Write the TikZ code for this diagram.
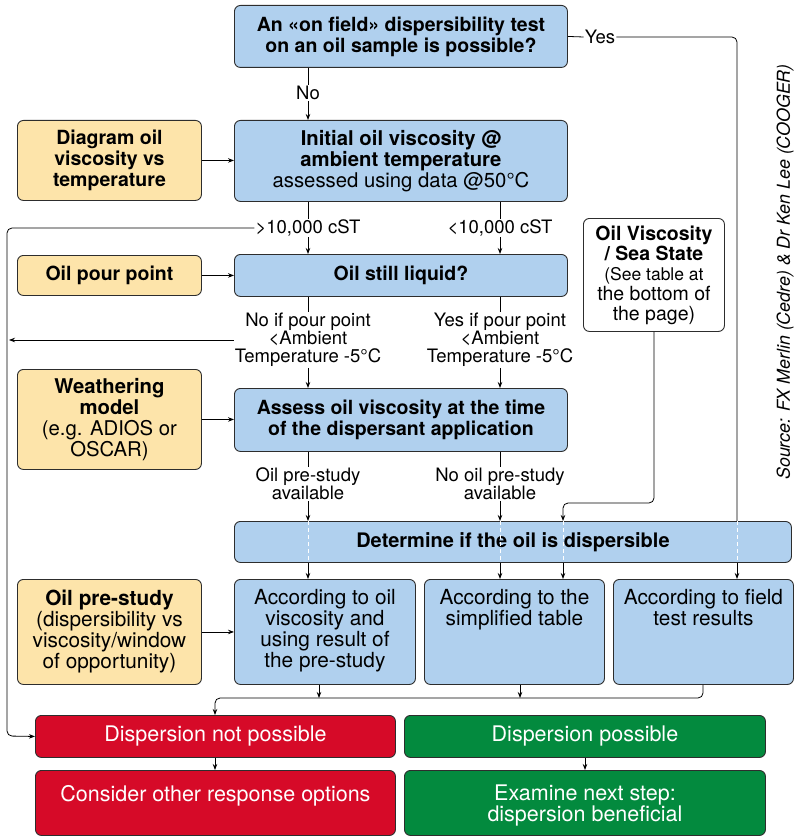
\documentclass[tikz,border=0pt]{standalone}
\usepackage{fontspec}
\setmainfont{TeX Gyre Heros}
\usetikzlibrary{arrows.meta}
\definecolor{boxblue}{RGB}{176,208,238}
\definecolor{boxorange}{RGB}{253,228,170}
\definecolor{boxred}{RGB}{214,10,40}
\definecolor{boxgreen}{RGB}{3,138,62}
\definecolor{bord}{RGB}{45,45,45}
\begin{document}
\begin{tikzpicture}[x=1pt,y=-1pt,
 box/.style={draw=bord,line width=0.9pt,rounded corners=6pt,inner sep=0pt,align=center,anchor=north west},
 bluebox/.style={box,fill=boxblue},
 orbox/.style={box,fill=boxorange},
 whbox/.style={box,fill=white},
 redbox/.style={box,fill=boxred,text=white},
 grnbox/.style={box,fill=boxgreen,text=white},
 ttl/.style={font=\fontsize{19.5}{21}\selectfont\bfseries},
 txt/.style={font=\fontsize{20.8}{21}\selectfont},
 bigtxt/.style={font=\fontsize{21.5}{21}\selectfont},
 intext/.style={txt,align=center,anchor=north,inner sep=0pt},
 lbl/.style={font=\fontsize{18.5}{18}\selectfont,align=center,fill=white,inner sep=1pt},
 conn/.style={draw=black,line width=0.8pt,rounded corners=5pt},
 arr/.style={conn,-{Stealth[length=6pt,width=4.5pt]}},
 gap/.style={draw=white,line width=0.8pt,dash pattern=on 4pt off 3pt},
]
\useasboundingbox (0,0) rectangle (794,837);

% boxes
\node[bluebox,ttl,minimum width=333pt,minimum height=62pt] (A) at (234,5) {An «on field» dispersibility test\\on an oil sample is possible?};
\node[orbox,ttl,minimum width=184pt,minimum height=80pt] (diag) at (17,120) {Diagram oil\\viscosity vs\\temperature};
\node[bluebox,font=\fontsize{20.3}{21}\selectfont,minimum width=333pt,minimum height=81pt] (B) at (234,120) {\bfseries Initial oil viscosity @\\\bfseries ambient temperature\\\mdseries assessed using data @50°C};
\node[orbox,ttl,minimum width=184pt,minimum height=40pt] (pour) at (17,255) {Oil pour point};
\node[bluebox,ttl,minimum width=333pt,minimum height=42pt] (C) at (234,254) {Oil still liquid?};
\node[orbox,font=\fontsize{20.3}{21}\selectfont,minimum width=184pt,minimum height=100pt] (weath) at (17,369) {\bfseries Weathering\\\bfseries model\\\mdseries (e.g. ADIOS or\\\mdseries OSCAR)};
\node[bluebox,ttl,minimum width=333pt,minimum height=63pt] (D) at (234,388) {Assess oil viscosity at the time\\of the dispersant application};
\node[whbox,minimum width=141pt,minimum height=113pt,font=\fontsize{19.5}{20}\selectfont\bfseries] (OV) at (583,218) {Oil Viscosity\\/ Sea State\\\fontsize{17.5}{18.5}\selectfont\mdseries (See table at\\\mdseries the bottom of\\\mdseries the page)};
\node[bluebox,font=\fontsize{20}{21}\selectfont\bfseries,minimum width=557pt,minimum height=41pt] (E) at (234,521) {Determine if the oil is dispersible};
\node[orbox,txt,minimum width=184pt,minimum height=105pt] (pre) at (17,579) {\bfseries Oil pre-study\\\mdseries (dispersibility vs\\\mdseries viscosity/window\\\mdseries of opportunity)};
\node[bluebox,minimum width=181pt,minimum height=105pt] (F1) at (234,579) {};
\node[bluebox,minimum width=180pt,minimum height=105pt] (F2) at (424,579) {};
\node[bluebox,minimum width=180pt,minimum height=105pt] (F3) at (613,579) {};
\node[intext] (f1t) at (F1.north |- 0,589) {According to oil\\viscosity and\\using result of\\the pre-study};
\node[intext] (f2t) at (F2.north |- 0,589) {According to the\\simplified table};
\node[intext] (f3t) at (F3.north |- 0,589) {According to field\\test results};
\node[redbox,bigtxt,minimum width=360pt,minimum height=42pt] (R1) at (35,715) {Dispersion not possible};
\node[grnbox,bigtxt,minimum width=361pt,minimum height=42pt] (G1) at (404,715) {Dispersion possible};
\node[redbox,minimum width=360pt,minimum height=65pt] (R2) at (35,770) {};
\node[grnbox,minimum width=361pt,minimum height=65pt] (G2) at (404,770) {};
\node[intext,bigtxt,text=white] (r2t) at (R2.north |- 0,785) {Consider other response options};
\node[intext,bigtxt,text=white] (g2t) at (G2.north |- 0,785) {Examine next step:\\dispersion beneficial};

\node[rotate=90,font=\fontsize{17.8}{18}\selectfont\itshape] (src) at (785,272) {Source: FX Merlin (Cedre) \& Dr Ken Lee (COOGER)};

% labels
\node[lbl] (no) at (308,93) {No};
\node[lbl] (yes) at (600,37) {Yes};
\node[lbl] (gt) at (308,228) {>10,000 cST};
\node[lbl] (lt) at (500,228) {<10,000 cST};
\node[lbl] (nopp) at (308,340) {No if pour point\\<Ambient\\Temperature -5°C};
\node[lbl] (yespp) at (500,340) {Yes if pour point\\<Ambient\\Temperature -5°C};
\node[lbl] (ops) at (308,484) {Oil pre-study\\available};
\node[lbl] (nops) at (500,484) {No oil pre-study\\available};

% coordinates
\coordinate (lft) at (9,340);
\coordinate (yx) at (737,521);
\coordinate (ovx) at (563,521);
\coordinate (ovc) at (654,503);
\coordinate (m1) at (319,698);
\coordinate (m2) at (520,698);
\coordinate (m3) at (703,698);
\coordinate (mL) at (215,698);
\coordinate (gx) at (585,760);
\coordinate (lc) at (7,736);

% connectors
\draw[conn] (A.south -| no) -- (no.north);
\draw[arr] (no.south) -- (B.north -| no);
\draw[conn] (A.east) -- (yes.west);
\draw[conn] (yes.east) -| (yx);
\draw[gap] (yx) -- (E.south -| yx);
\draw[arr] (E.south -| yx) -- (F3.north -| yx);

\draw[arr] (diag.east) -- (B.west |- diag.east);
\draw[conn] (B.south -| gt) -- (gt.north);
\draw[arr] (gt.south) -- (C.north -| gt);
\draw[conn] (B.south -| lt) -- (lt.north);
\draw[arr] (lt.south) -- (C.north -| lt);
\draw[arr] (gt.west) -| (lc) -- (R1.west);

\draw[arr] (pour.east) -- (C.west |- pour.east);
\draw[conn] (C.south -| nopp) -- (nopp.north);
\draw[arr] (nopp.south) -- (D.north -| nopp);
\draw[conn] (C.south -| yespp) -- (yespp.north);
\draw[arr] (yespp.south) -- (D.north -| yespp);
\draw[arr] (nopp.west) -- (lft);

\draw[arr] (weath.east) -- (D.west |- weath.east);
\draw[conn] (D.south -| ops) -- (ops.north);
\draw[arr] (ops.south) -- (E.north -| ops);
\draw[conn] (D.south -| nops) -- (nops.north);
\draw[arr] (nops.south) -- (E.north -| nops);
\draw[arr] (OV.south -| ovc) -- (ovc) -- (ovc -| ovx) -- (ovx);

\draw[gap] (E.north -| ops) -- (E.south -| ops);
\draw[gap] (E.north -| nops) -- (E.south -| nops);
\draw[gap] (ovx) -- (E.south -| ovx);
\draw[arr] (E.south -| ops) -- (F1.north -| ops);
\draw[arr] (E.south -| nops) -- (F2.north -| nops);
\draw[arr] (E.south -| ovx) -- (F2.north -| ovx);

\draw[arr] (pre.east) -- (F1.west |- pre.east);
\draw[arr] (F1.south -| m1) -- (m1);
\draw[arr] (F2.south -| m2) -- (m2);
\draw[arr] (F3.south -| m3) -- (m3) -- (mL) -- (R1.north -| mL);
\draw[arr] (R1.south -| mL) -- (R2.north -| mL);
\draw[arr] (G1.south -| gx) -- (G2.north -| gx);
\end{tikzpicture}
\end{document}
